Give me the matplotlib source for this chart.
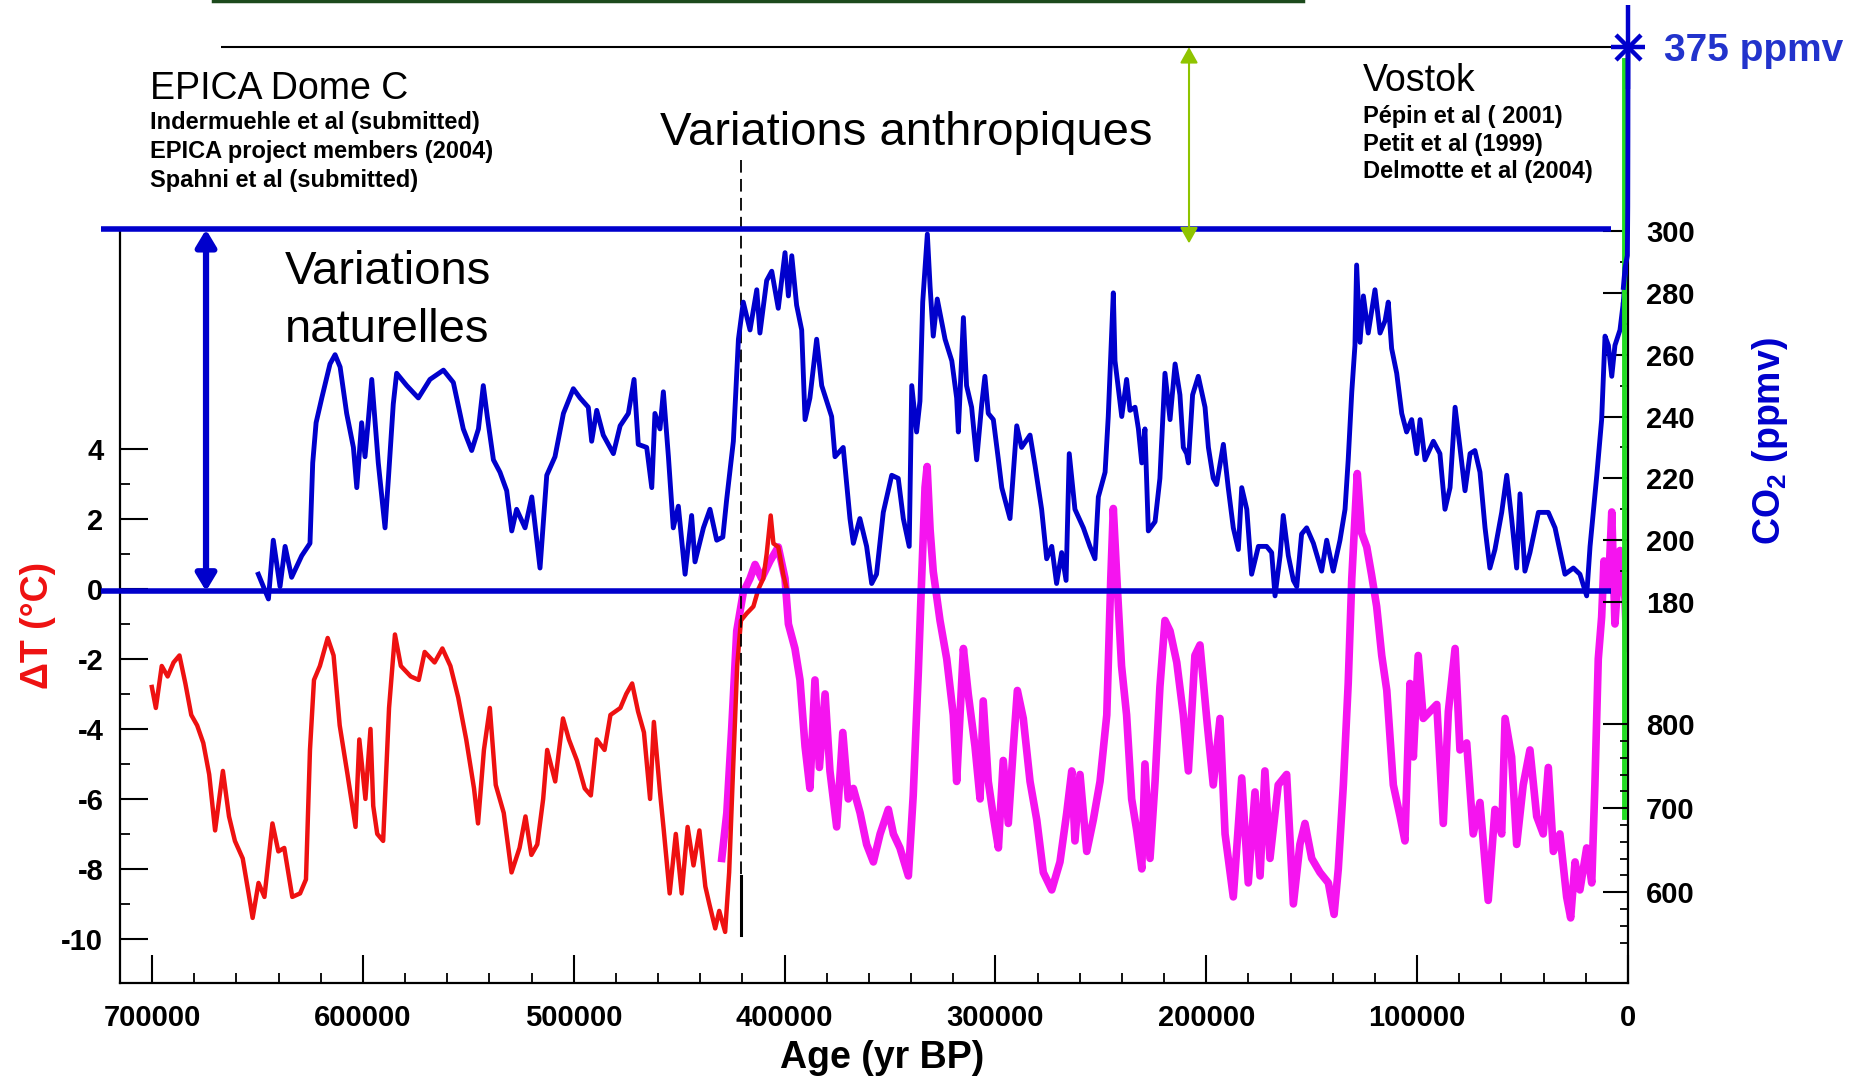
import numpy as np
import matplotlib.pyplot as plt
from matplotlib.ticker import FixedLocator, FormatStrFormatter
from matplotlib.lines import Line2D

plt.rcParams['font.family'] = ['Liberation Sans', 'DejaVu Sans']
plt.rcParams['font.weight'] = 'bold'
plt.rcParams['axes.unicode_minus'] = False
plt.rcParams['mathtext.fontset'] = 'custom'
plt.rcParams['mathtext.rm'] = 'Liberation Sans:bold'
plt.rcParams['mathtext.it'] = 'Liberation Sans:bold'
plt.rcParams['mathtext.bf'] = 'Liberation Sans:bold'

# ---- data ---------------------------------------------------------------
co2_age = [649600, 644800, 642500, 639300, 636900, 633800, 629000, 625100, 623800, 622200,
           619500, 615600, 613200, 610800, 607700, 604500, 602900, 600600, 599000, 597400,
           595800, 594200, 592700, 589500, 587900, 585600, 584000, 579200, 573700, 568200,
           561800, 557100, 552400, 548400, 545200, 542900, 541000, 538100, 535000, 531800,
           529400, 527100, 523100, 519900, 516000, 512800, 508900, 504900, 500200, 497000,
           493100, 491500, 489100, 486000, 481200, 478000, 474100, 471400, 469400, 465400,
           463000, 461500, 459100, 457500, 455100, 452800, 450400, 447200, 444100, 442500,
           438500, 435400, 432200, 429300, 427500, 424300, 421900, 419600, 416400, 413200,
           411700, 408500, 406100, 403000, 399800, 398200, 396600, 394300, 391900, 390300,
           388000, 384800, 382400, 377700, 376100, 372200, 369000, 367400, 364300, 361100,
           358700, 356400, 353200, 349200, 346100, 343700, 340900, 339700, 337400, 335800,
           334500, 332300, 331000, 329500, 327600, 323900, 320700, 318400, 317600, 315200,
           313700, 311300, 308900, 306500, 305000, 303400, 301000, 298600, 297000, 293100,
           289900, 287600, 283600, 281200, 278100, 275700, 273300, 271000, 268600, 266500,
           265000, 262300, 258300, 255200, 252800, 251200, 248000, 246500, 244100, 243300,
           240100, 237800, 236200, 233800, 232200, 230600, 229100, 227500, 224300, 222000,
           219600, 217200, 214800, 212500, 210900, 209300, 208500, 206500, 203800, 200600,
           199000, 196700, 195100, 191900, 189600, 187200, 184800, 183200, 180800, 178500,
           175300, 171400, 169000, 167400, 165000, 163500, 161100, 158700, 157100, 154800,
           152400, 149200, 145300, 142900, 139800, 136600, 134200, 132700, 131000, 129500,
           128700, 127100, 125500, 123200, 120000, 117600, 115200, 113700, 112100, 109700,
           107300, 105000, 102600, 100200, 98600, 96300, 92300, 89200, 86800, 84400,
           82000, 79700, 77300, 74900, 72600, 70200, 67800, 65500, 63100, 59900,
           57500, 55200, 52800, 51200, 48900, 46500, 42500, 37800, 34600, 29900,
           25900, 22800, 19600, 18000, 14800, 12500, 10900, 9300, 7700, 6200,
           3800, 2200]
co2_ppmv = [189, 181, 200, 185, 198, 188, 195, 199, 225, 238,
            246, 257, 260, 256, 241, 230, 217, 238, 227, 239,
            252, 238, 225, 204, 220, 244, 254, 250, 246, 252,
            255, 251, 236, 229, 236, 250, 240, 226, 222, 216,
            203, 210, 204, 214, 191, 221, 227, 241, 249, 246,
            243, 232, 242, 234, 228, 237, 241, 252, 231, 230,
            217, 241, 236, 248, 227, 204, 211, 189, 208, 193,
            204, 210, 200, 201, 213, 232, 265, 277, 268, 281,
            267, 284, 287, 275, 293, 279, 292, 276, 268, 239,
            246, 265, 250, 240, 227, 230, 207, 199, 207, 198,
            186, 189, 209, 221, 220, 207, 198, 250, 235, 245,
            277, 299, 282, 266, 278, 265, 258, 246, 235, 272,
            250, 243, 226, 244, 253, 241, 239, 226, 217, 207,
            237, 230, 234, 224, 210, 194, 198, 186, 196, 187,
            228, 210, 204, 198, 194, 214, 222, 240, 280, 258,
            240, 252, 242, 243, 236, 225, 236, 203, 206, 220,
            254, 239, 257, 247, 230, 228, 225, 247, 253, 243,
            230, 220, 218, 231, 217, 204, 197, 217, 210, 189,
            198, 198, 196, 182, 195, 208, 195, 187, 185, 202,
            204, 199, 190, 200, 190, 200, 210, 226, 248, 263,
            289, 264, 279, 267, 281, 267, 271, 277, 262, 254,
            241, 235, 239, 228, 239, 226, 232, 228, 210, 217,
            243, 230, 216, 228, 229, 222, 204, 191, 197, 209,
            221, 207, 191, 215, 190, 196, 209, 209, 204, 189,
            191, 189, 182, 198, 221, 239, 266, 263, 253, 263,
            268, 277]

# pre-industrial -> 2004 rise, and today's value
co2_recent_age = [2200, 1400, 300, 120, 40, 0]
co2_recent_ppmv = [277, 285, 290, 310, 340, 375]
co2_today = 375

# EPICA Dome C temperature anomaly (red)
epica_age = [700100, 698200, 695400, 692600, 689800, 687000, 684200, 681400, 678600, 675700,
             672900, 670100, 666400, 663500, 660700, 657000, 654200, 652300, 649500, 646700,
             642900, 640100, 637300, 633500, 629800, 627000, 625100, 623200, 620400, 616700,
             613900, 611000, 607300, 603500, 601700, 598800, 596400, 595100, 593200, 590400,
             587600, 584800, 582000, 577300, 573500, 570700, 566000, 562300, 558500, 554800,
             551000, 547300, 545400, 542600, 539800, 537000, 533200, 529500, 525700, 522900,
             520100, 517300, 514500, 512600, 508800, 505100, 502300, 498500, 494800, 491900,
             489100, 485400, 482600, 477900, 475100, 472300, 469500, 466700, 463800, 462000,
             459100, 457300, 454500, 451600, 448800, 446000, 443200, 440400, 437600, 435700,
             432900, 431000, 428200, 426300, 424400, 422500, 420700, 418000, 414800, 412400,
             410100, 408500, 406600, 405300, 403000, 400600, 399000]
epica_dT = [-2.8, -3.4, -2.2, -2.5, -2.1, -1.9, -2.7, -3.6, -3.9, -4.4,
            -5.3, -6.9, -5.2, -6.5, -7.2, -7.7, -8.7, -9.4, -8.4, -8.8,
            -6.7, -7.5, -7.4, -8.8, -8.7, -8.3, -4.6, -2.6, -2.2, -1.4,
            -1.9, -3.9, -5.3, -6.8, -4.3, -6.0, -4.0, -6.2, -7.0, -7.2,
            -3.4, -1.3, -2.2, -2.5, -2.6, -1.8, -2.1, -1.7, -2.2, -3.1,
            -4.3, -5.7, -6.7, -4.6, -3.4, -5.6, -6.4, -8.1, -7.4, -6.5,
            -7.6, -7.3, -6.0, -4.6, -5.5, -3.7, -4.3, -4.9, -5.7, -5.9,
            -4.3, -4.6, -3.6, -3.4, -3.0, -2.7, -3.5, -4.1, -6.0, -3.8,
            -5.8, -6.9, -8.7, -7.0, -8.7, -6.8, -7.9, -6.9, -8.5, -9.0,
            -9.7, -9.2, -9.8, -8.1, -5.1, -2.2, -0.9, -0.7, -0.5, 0.0,
            0.3, 1.0, 2.1, 1.3, 1.2, 0.4, 0.0]

# Vostok temperature anomaly (magenta)
vostok_age = [429800, 427400, 425100, 422700, 419600, 416400, 414000, 410900, 406900, 403000,
              399800, 398200, 395100, 392700, 390300, 388000, 385600, 383500, 380800, 378500,
              375300, 372400, 369800, 367400, 364200, 361100, 357900, 354700, 350800, 348400,
              345300, 341300, 339000, 336600, 335000, 333400, 332400, 331000, 329500, 326300,
              323100, 320000, 318400, 315200, 312900, 309700, 307300, 305800, 303400, 301000,
              298600, 296300, 293900, 291500, 289600, 286800, 283600, 280400, 277300, 273300,
              269400, 266200, 263800, 262300, 259900, 256700, 253600, 250400, 247200, 245300,
              244100, 242500, 240200, 237800, 235400, 233000, 230600, 229100, 226700, 224300,
              222000, 219600, 217200, 214000, 210900, 208500, 205400, 203000, 199800, 196700,
              193500, 191100, 187200, 183200, 180100, 176900, 174500, 172200, 169800, 165900,
              161900, 158700, 155600, 153200, 150000, 146100, 142100, 139400, 137400, 135000,
              132700, 131000, 128400, 126300, 123900, 121600, 119200, 116800, 114400, 111300,
              108100, 105800, 103400, 101800, 99500, 97100, 93900, 90700, 87600, 85200,
              82000, 79700, 76500, 73400, 70200, 66300, 63100, 59900, 58300, 55200,
              52800, 49700, 46500, 43300, 40200, 37800, 35400, 32300, 29100, 27200,
              25100, 22800, 19600, 17200, 15700, 14100, 12500, 11400, 9300, 7700,
              6200, 3800, 1400, 600]
vostok_dT = [-7.7, -6.4, -4.0, -1.2, -0.1, 0.3, 0.7, 0.3, 0.8, 1.2,
             0.3, -1.0, -1.7, -2.6, -4.5, -5.7, -2.6, -5.1, -3.0, -5.2,
             -6.8, -4.1, -6.0, -5.7, -6.4, -7.3, -7.8, -7.0, -6.3, -7.0,
             -7.4, -8.2, -5.9, -2.4, 0.3, 2.9, 3.5, 1.7, 0.5, -0.9,
             -2.0, -3.6, -5.5, -1.7, -3.0, -4.5, -6.0, -3.2, -5.5, -6.5,
             -7.4, -4.9, -6.7, -4.5, -2.9, -3.7, -5.5, -6.6, -8.1, -8.6,
             -7.8, -6.4, -5.2, -7.2, -5.3, -7.5, -6.6, -5.5, -3.6, 0.3,
             2.3, 0.4, -2.2, -3.6, -6.0, -6.9, -8.0, -5.0, -7.7, -5.5,
             -2.8, -0.9, -1.2, -2.1, -3.6, -5.2, -1.9, -1.6, -3.7, -5.6,
             -3.7, -7.0, -8.8, -5.4, -8.4, -5.8, -8.2, -5.2, -7.7, -5.6,
             -5.3, -9.0, -7.3, -6.7, -7.7, -8.1, -8.4, -9.3, -8.0, -5.6,
             -2.7, 0.3, 3.3, 1.6, 1.2, 0.4, -0.5, -1.9, -2.9, -5.6,
             -6.5, -7.2, -2.7, -4.8, -1.9, -3.7, -3.5, -3.3, -6.7, -3.5,
             -1.7, -4.6, -4.4, -7.0, -6.1, -8.9, -6.3, -7.0, -3.7, -4.8,
             -7.3, -5.6, -4.6, -6.5, -7.0, -5.1, -7.5, -7.0, -8.8, -9.4,
             -7.8, -8.6, -7.4, -8.4, -5.6, -2.0, -0.8, 0.8, 0.0, 2.2,
             -1.0, 1.1, -0.3, -1.7]

# recent CH4 rise (green, hugging the right axis)
ch4_recent_age = [1800, 1800]
ch4_recent_ppbv = [690, 1590]

# range of natural CO2 variations (blue horizontal bars) and boundary marker
co2_natural = [183.5, 300.5]
boundary_age = 420700

x_major = list(range(0, 700001, 100000))
x_minor = [a for a in range(0, 700001, 20000) if a % 100000]
dT_major = [-10, -8, -6, -4, -2, 0, 2, 4]
dT_minor = [-9, -7, -5, -3, -1, 1, 3]
co2_major = [180, 200, 220, 240, 260, 280, 300]
co2_minor = [190, 210, 230, 250, 270, 290]
ch4_major = [600, 700, 800]
ch4_minor = [540, 560, 580, 620, 640, 660, 680, 720, 740, 760, 780]

blue = '#0000cc'
red = '#ee1111'
magenta = '#f514ef'

# ---- figure ----------------------------------------------------------------
W, H = 1857, 1079
fig = plt.figure(figsize=(W / 100, H / 100), dpi=100)


def fx(p):
    return p / W


def fy(p):
    return 1 - p / H


ax = fig.add_axes([fx(120), fy(983), (1628 - 120) / W, (983 - 231) / H])
ax.set_xlim(715200, 0)
ax.set_ylim(-11.26, 10.23)

ax_co2 = ax.twinx()
ax_co2.set_ylim(56.8, 300)
ax_ch4 = ax.twinx()
ax_ch4.set_ylim(492, 1387)

# strip above the axes for the anthropogenic part (broken CO2 scale)
ax_top = fig.add_axes([fx(120), fy(231), (1628 - 120) / W, 231 / H])
ax_top.set_xlim(715200, 0)
ax_top.set_ylim(300, 394.2)
ax_top.axis('off')

# temperature
ax.plot(vostok_age, vostok_dT, color=magenta, lw=5.5, zorder=2)
ax.plot(epica_age, epica_dT, color=red, lw=3.2, zorder=3)

# CO2
ax_co2.plot(co2_age, co2_ppmv, color=blue, lw=3.5, zorder=3)
ax_co2.plot(co2_recent_age, co2_recent_ppmv, color=blue, lw=3.5, zorder=3)
ax_top.plot(co2_recent_age, co2_recent_ppmv, color=blue, lw=3.5, clip_on=False)
ax_co2.hlines(co2_natural, 724000, 8000, color=blue, lw=4, zorder=5, clip_on=False)

# CH4 recent
ax_ch4.plot(ch4_recent_age, ch4_recent_ppbv, color='#22dd22', lw=3.5, clip_on=False, zorder=1)

# 375 ppmv marker and reference line
ax_top.hlines(co2_today, 667300, 5200, color='black', lw=1.5)
for m, s in [('|', 60), ('_', 24), ('x', 18)]:
    ax_top.plot(0, co2_today, marker=m, ms=s, mew=3.2, color=blue, clip_on=False)

# EPICA / Vostok boundary
ax.plot([boundary_age, boundary_age], [12.26, -8.2], color='black', lw=1.3,
        dashes=(7, 3.5), clip_on=False, zorder=4)
ax.plot([boundary_age, boundary_age], [-8.2, -9.9], color='black', lw=2.2, zorder=4)

# arrows
ax_co2.annotate('', xy=(674400, co2_natural[0]), xytext=(674400, co2_natural[1]),
                arrowprops=dict(arrowstyle='<|-|>,head_length=0.5,head_width=0.3',
                                color=blue, lw=4.5, shrinkA=0, shrinkB=0,
                                mutation_scale=20),
                annotation_clip=False, zorder=6)
ax_top.annotate('', xy=(208200, 296), xycoords=ax_co2.transData,
                xytext=(208200, co2_today), textcoords=ax_top.transData,
                arrowprops=dict(arrowstyle='<|-|>,head_length=0.8,head_width=0.45',
                                color='#8fc400', lw=1.5, shrinkA=0, shrinkB=0,
                                mutation_scale=12),
                annotation_clip=False)

# spines & ticks
ax.spines['top'].set_visible(False)
for a in (ax_co2, ax_ch4):
    for s in a.spines.values():
        s.set_visible(False)
for s in ('left', 'bottom', 'right'):
    ax.spines[s].set_linewidth(1.6)

ax.xaxis.set_major_locator(FixedLocator(x_major))
ax.xaxis.set_minor_locator(FixedLocator(x_minor))
ax.xaxis.set_major_formatter(FormatStrFormatter('%d'))
ax.yaxis.set_major_locator(FixedLocator(dT_major))
ax.yaxis.set_minor_locator(FixedLocator(dT_minor))
ax.yaxis.set_major_formatter(FormatStrFormatter('%d'))
ax.tick_params(axis='x', which='major', direction='in', length=20, width=1.5,
               pad=15, labelsize=21)
ax.tick_params(axis='x', which='minor', direction='in', length=7, width=1.3)
ax.tick_params(axis='y', which='major', direction='in', length=20, width=1.5,
               pad=12, labelsize=21, right=False)
ax.tick_params(axis='y', which='minor', direction='in', length=7, width=1.3, right=False)

for a, maj, mnr in ((ax_co2, co2_major, co2_minor), (ax_ch4, ch4_major, ch4_minor)):
    a.yaxis.set_major_locator(FixedLocator(maj))
    a.yaxis.set_minor_locator(FixedLocator(mnr))
    a.yaxis.set_major_formatter(FormatStrFormatter('%d'))
    a.tick_params(axis='y', which='major', direction='in', length=18, width=1.5,
                  pad=13, labelsize=21)
    a.tick_params(axis='y', which='minor', direction='in', length=6, width=1.3)

# labels
fig.text(fx(38), fy(625), 'ΔT (°C)', color=red, fontsize=27, rotation=90,
         ha='center', va='center')
fig.text(fx(1770), fy(441), 'CO$_2$ (ppmv)', color=blue, fontsize=27, rotation=90,
         ha='center', va='center')
fig.text(fx(882), fy(1058), 'Age (yr BP)', fontsize=27, ha='center', va='center')
fig.text(fx(1664), fy(51), '375 ppmv', color='#2233cc', fontsize=28,
         ha='left', va='center')

fig.text(fx(150), fy(89), 'EPICA Dome C', fontsize=27, fontweight='normal',
         ha='left', va='center')
for i, t in enumerate(['Indermuehle et al (submitted)', 'EPICA project members (2004)',
                       'Spahni et al (submitted)']):
    fig.text(fx(150), fy(123 + 28.5 * i), t, fontsize=17, ha='left', va='center')

fig.text(fx(1363), fy(81), 'Vostok', fontsize=27, fontweight='normal',
         ha='left', va='center')
for i, t in enumerate(['Pépin et al ( 2001)', 'Petit et al (1999)',
                       'Delmotte et al (2004)']):
    fig.text(fx(1363), fy(117 + 27 * i), t, fontsize=17, ha='left', va='center')

fig.text(fx(660), fy(133), 'Variations anthropiques', fontsize=34,
         fontweight='normal', ha='left', va='center')
fig.text(fx(285), fy(301), 'Variations\nnaturelles', fontsize=34,
         fontweight='normal', ha='left', va='center', linespacing=1.4)

# cropped dark green edge at the very top of the original slide
fig.add_artist(Line2D([fx(213), fx(1303)], [fy(1), fy(1)], color='#1c4a1c', lw=2.5))

fig.savefig('out.png', dpi=100, facecolor='white')
